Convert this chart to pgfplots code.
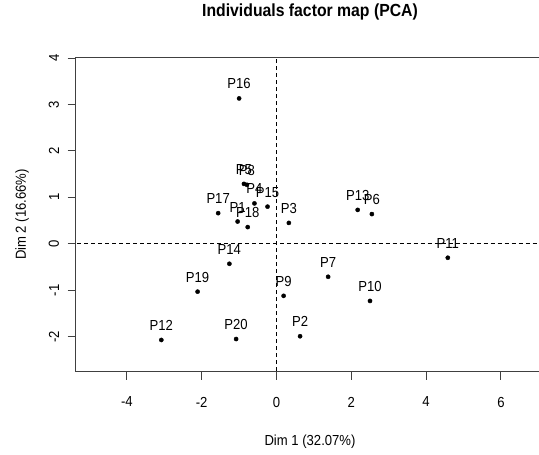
\documentclass[border=0pt]{standalone}
\usepackage{pgfplots}
\pgfplotsset{compat=1.18}
\usepackage{fontspec}
\setmainfont{Liberation Sans}[FakeStretch=0.9]
\pgfplotstableread{
x y lab
-1.04 0.48 P1
0.63 -1.99 P2
0.33 0.45 P3
-0.59 0.87 P4
-0.87 1.29 P5
2.55 0.64 P6
1.38 -0.71 P7
-0.79 1.27 P8
0.19 -1.12 P9
2.50 -1.23 P10
4.58 -0.30 P11
-3.08 -2.07 P12
2.17 0.73 P13
-1.26 -0.43 P14
-0.24 0.80 P15
-1.00 3.13 P16
-1.56 0.66 P17
-0.77 0.36 P18
-2.11 -1.03 P19
-1.08 -2.05 P20
}\pcadata
\begin{document}
\begin{tikzpicture}
\useasboundingbox (-75.7bp,-83.3bp) rectangle (463.3bp,371.7bp);
\begin{axis}[
  at={(0,0)}, anchor=south west,
  scale only axis,
  width=468.6bp, height=314.4bp,
  xmin=-5.369, xmax=7.16,
  ymin=-2.753, ymax=4.015,
  axis line style={draw=black!75, line width=0.9bp},
  tick style={draw=black!75, line width=0.9bp},
  tick align=outside,
  major tick length=8bp,
  xtick={-4,-2,0,2,4,6},
  xticklabels={-4,-2,0,2,4,6},
  ytick={-2,-1,0,1,2,3,4},
  yticklabels={-2,-1,0,1,2,3,4},
  xtick pos=bottom, ytick pos=left,
  font=\fontsize{14.6}{16}\selectfont,
  xticklabel style={anchor=north, inner sep=0pt},
  xticklabel shift=17bp,
  yticklabel style={rotate=90, anchor=south, inner sep=0pt},
  yticklabel shift=8.5bp,
  title={\fontsize{17.6}{19}\selectfont\bfseries Individuals factor map (PCA)},
  title style={at={([yshift=39bp]rel axis cs:0.5,1)}, anchor=center, inner sep=0pt},
  xlabel={Dim 1 (32.07\%)},
  xlabel style={at={([yshift=-70bp]rel axis cs:0.5,0)}, anchor=center, inner sep=0pt},
  ylabel={Dim 2 (16.66\%)},
  ylabel style={at={([xshift=-53.7bp]rel axis cs:0,0.5)}, anchor=center, inner sep=0pt, rotate=0},
  clip=true,
]
\addplot[black, line width=0.8bp, dash pattern=on 4bp off 3bp, forget plot] coordinates {(-10,0) (10,0)};
\addplot[black, line width=0.8bp, dash pattern=on 4bp off 3bp, forget plot] coordinates {(0,-5) (0,6)};
\addplot[only marks, mark=*, mark size=2.1bp, black,
  point meta=explicit symbolic,
  nodes near coords,
  every node near coord/.append style={anchor=base, yshift=9.5bp, inner sep=0pt, black, font=\fontsize{14.6}{16}\selectfont},
] table[x=x, y=y, meta=lab] {\pcadata};
\end{axis}
\end{tikzpicture}
\end{document}
